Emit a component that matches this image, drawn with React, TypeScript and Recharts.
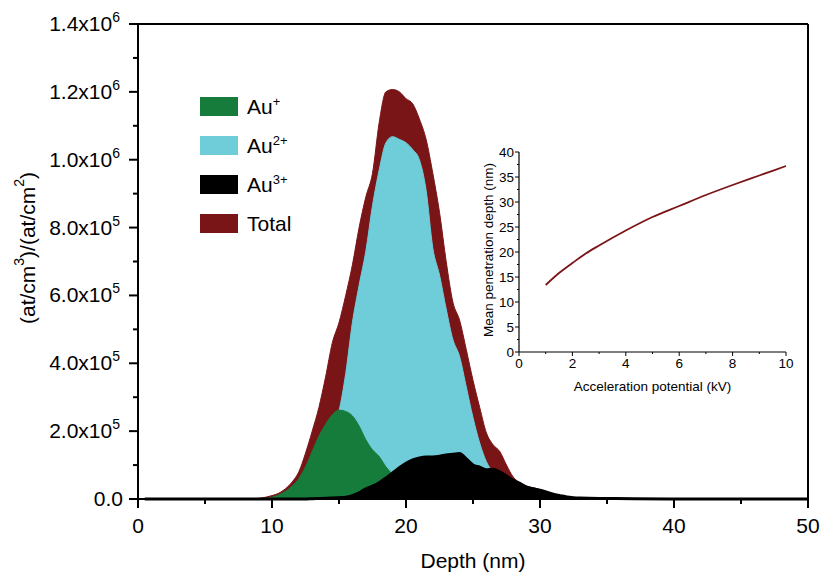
import React from 'react';
import { ComposedChart, Area, XAxis, YAxis, ReferenceLine, LineChart, Line, Label } from 'recharts';

const FONT = '"Liberation Sans", Arial, Helvetica, sans-serif';

// depth profile (nm) and implanted dose, (at/cm3)/(at/cm2)
const depthNm = [
	0.5, 5,
	8, 8.5, 9, 9.5, 10, 10.5, 11, 11.5, 12, 12.5,
	13, 13.5, 14, 14.5, 15, 15.5, 16, 16.5, 17, 17.5,
	18, 18.5, 19, 19.5, 20, 20.5, 21, 21.5, 22, 22.5,
	23, 23.5, 24, 24.5, 25, 25.5, 26, 26.5, 27, 27.5,
	28, 28.5, 29, 29.5, 30, 30.5, 31, 31.5, 32, 32.5,
	33,
	35, 37, 40, 45, 50,
];

const totalDose = [
	0, 0,
	500, 1000, 2000, 5000, 10000, 17000, 30000, 50000, 80000, 135000,
	200000, 270000, 360000, 460000, 520000, 600000, 690000, 800000, 890000, 960000,
	1110000, 1200000, 1207000, 1200000, 1180000, 1165000, 1120000, 1060000, 960000, 845000,
	700000, 580000, 527000, 440000, 350000, 270000, 195000, 160000, 140000, 100000,
	65000, 48000, 38000, 33000, 28000, 22000, 15000, 10000, 6000, 4000,
	3000,
	2000, 1000, 0, 0, 0,
];

const au2Dose = [
	0, 0,
	0, 0, 0, 0, 0, 2000, 5000, 10000, 20000, 40000,
	70000, 110000, 160000, 210000, 260000, 370000, 520000, 630000, 730000, 865000,
	970000, 1050000, 1068000, 1060000, 1050000, 1030000, 1000000, 910000, 740000, 660000,
	560000, 470000, 420000, 330000, 240000, 165000, 110000, 78000, 50000, 30000,
	15000, 8000, 4000, 2000, 0, 0, 0, 0, 0, 0,
	0,
	0, 0, 0, 0, 0,
];

const au1Dose = [
	0, 0,
	0, 0, 500, 2000, 5000, 12000, 22000, 38000, 60000, 95000,
	140000, 185000, 220000, 248000, 262000, 258000, 245000, 215000, 175000, 145000,
	125000, 95000, 72000, 50000, 35000, 25000, 15000, 10000, 5000, 3000,
	2000, 1000, 0, 0, 0, 0, 0, 0, 0, 0,
	0, 0, 0, 0, 0, 0, 0, 0, 0, 0,
	0,
	0, 0, 0, 0, 0,
];

const au3Dose = [
	0, 0,
	0, 0, 0, 0, 0, 0, 0, 0, 0, 0,
	1000, 1500, 2000, 3000, 4000, 5000, 10000, 18000, 30000, 38000,
	48000, 62000, 77000, 92000, 105000, 115000, 121000, 124000, 124000, 126000,
	130000, 132000, 134000, 118000, 100000, 94000, 86000, 88000, 80000, 68000,
	55000, 46000, 35000, 30000, 26000, 20000, 14000, 10000, 6000, 4000,
	3000,
	1500, 500, 0, 0, 0,
];

const depthTicks = [0, 5, 10, 15, 20, 25, 30, 35, 40, 45, 50];
const doseTicks = [
	0, 100000, 200000, 300000, 400000, 500000, 600000, 700000,
	800000, 900000, 1000000, 1100000, 1200000, 1300000, 1400000,
];

// inset: mean penetration depth vs acceleration potential
const insetKv = [1, 1.5, 2, 2.5, 3, 4, 5, 6, 7, 8, 9, 10];
const insetDepth = [13.4, 15.8, 17.8, 19.7, 21.3, 24.3, 27.0, 29.2, 31.4, 33.4, 35.3, 37.2];
const insetXTicks = [0, 1, 2, 3, 4, 5, 6, 7, 8, 9, 10];
const insetYTicks = [0, 2.5, 5, 7.5, 10, 12.5, 15, 17.5, 20, 22.5, 25, 27.5, 30, 32.5, 35, 37.5, 40];

const seriesNames = ['Total', 'Au2+', 'Au+', 'Au3+'];
const seriesColors = ['#7a1517', '#6ecdd9', '#167c3c', '#000000'];

const legendItems = [
	{ base: 'Au', sup: '+', color: '#167c3c' },
	{ base: 'Au', sup: '2+', color: '#6ecdd9' },
	{ base: 'Au', sup: '3+', color: '#000000' },
	{ base: 'Total', sup: '', color: '#7a1517' },
];

const profileData = depthNm.map((d, i) => ({
	depth: d,
	total: totalDose[i],
	au2: au2Dose[i],
	au1: au1Dose[i],
	au3: au3Dose[i],
}));

const insetData = insetKv.map((kv, i) => ({ kv, depth: insetDepth[i] }));

const sciParts = (v: number) => {
	if (v === 0) return { base: '0.0', exp: '' };
	const e = Math.floor(Math.log10(v) + 1e-9);
	return { base: `${(v / 10 ** e).toFixed(1)}x10`, exp: String(e) };
};

const DoseTick = (props: any) => {
	const { x, y, payload } = props;
	const v = payload.value;
	const major = Math.round(v / 100000) % 2 === 0;
	const { base, exp } = sciParts(v);
	return (
		<g>
			<line x1={x - (major ? 9 : 5)} x2={x} y1={y} y2={y} stroke="#000" strokeWidth={2} />
			{major && (
				<text x={x - (exp ? 18 : 15)} y={y + 7} textAnchor="end" fontSize={21} fontFamily={FONT} fill="#000">
					{base}
					{exp && (
						<tspan dy={-9} fontSize={14}>
							{exp}
						</tspan>
					)}
				</text>
			)}
		</g>
	);
};

const DepthTick = (props: any) => {
	const { x, y, payload } = props;
	const major = payload.value % 10 === 0;
	return (
		<g>
			<line x1={x} x2={x} y1={y} y2={y + (major ? 9 : 5)} stroke="#000" strokeWidth={2} />
			{major && (
				<text x={x} y={y + 34} textAnchor="middle" fontSize={21} fontFamily={FONT} fill="#000">
					{payload.value}
				</text>
			)}
		</g>
	);
};

const DoseTitle = (props: any) => {
	const vb = props.viewBox || { x: 0, y: 24 };
	const cx = vb.x + 27;
	const cy = vb.y + 224;
	return (
		<text
			transform={`translate(${cx},${cy}) rotate(-90)`}
			textAnchor="middle"
			dominantBaseline="central"
			fontSize={21}
			fontFamily={FONT}
			fill="#000"
		>
			(at/cm
			<tspan dy={-8} fontSize={14}>3</tspan>
			<tspan dy={8}>)/(at/cm</tspan>
			<tspan dy={-8} fontSize={14}>2</tspan>
			<tspan dy={8}>)</tspan>
		</text>
	);
};

const InsetXTick = (props: any) => {
	const { x, y, payload } = props;
	const major = payload.value % 2 === 0;
	return (
		<g>
			<line x1={x} x2={x} y1={y} y2={y + (major ? 4 : 2)} stroke="#000" strokeWidth={1} />
			{major && (
				<text x={x} y={y + 16} textAnchor="middle" fontSize={13.5} fontFamily={FONT} fill="#000">
					{payload.value}
				</text>
			)}
		</g>
	);
};

const InsetYTick = (props: any) => {
	const { x, y, payload } = props;
	const major = payload.value % 5 === 0;
	return (
		<g>
			<line x1={x - (major ? 4 : 2)} x2={x} y1={y} y2={y} stroke="#000" strokeWidth={1} />
			{major && (
				<text x={x - 5} y={y + 5} textAnchor="end" fontSize={13.5} fontFamily={FONT} fill="#000">
					{payload.value}
				</text>
			)}
		</g>
	);
};

const InsetYTitle = (props: any) => {
	const vb = props.viewBox || { x: 0, y: 12 };
	const cx = vb.x + 48;
	const cy = vb.y + 98;
	return (
		<text
			transform={`translate(${cx},${cy}) rotate(-90)`}
			textAnchor="middle"
			dominantBaseline="central"
			fontSize={13.5}
			fontFamily={FONT}
			fill="#000"
		>
			Mean penetration depth (nm)
		</text>
	);
};

const App = () => (
	<div style={{ position: 'absolute', left: 0, top: 0, width: 820, height: 574, background: '#fff', fontFamily: FONT }}>
		<ComposedChart width={820} height={574} data={profileData} margin={{ top: 24, right: 12, bottom: 0, left: 0 }}>
			<XAxis
				type="number"
				dataKey="depth"
				domain={[0, 50]}
				ticks={depthTicks}
				interval={0}
				tickSize={0}
				tickMargin={0}
				tickLine={false}
				tick={<DepthTick />}
				axisLine={{ stroke: '#000', strokeWidth: 2 }}
				height={75}
			>
				<Label value="Depth (nm)" position="insideBottom" offset={6} fontSize={21} fontFamily={FONT} fill="#000" />
			</XAxis>
			<YAxis
				type="number"
				domain={[0, 1400000]}
				ticks={doseTicks}
				interval={0}
				tickSize={0}
				tickMargin={0}
				tickLine={false}
				tick={<DoseTick />}
				axisLine={{ stroke: '#000', strokeWidth: 2 }}
				width={138}
			>
				<Label content={<DoseTitle />} />
			</YAxis>
			<Area type="monotone" dataKey="total" name={seriesNames[0]} fill={seriesColors[0]} fillOpacity={1} stroke={seriesColors[0]} strokeWidth={1} isAnimationActive={false} />
			<Area type="monotone" dataKey="au2" name={seriesNames[1]} fill={seriesColors[1]} fillOpacity={1} stroke={seriesColors[1]} strokeWidth={1} isAnimationActive={false} />
			<Area type="monotone" dataKey="au1" name={seriesNames[2]} fill={seriesColors[2]} fillOpacity={1} stroke={seriesColors[2]} strokeWidth={1} isAnimationActive={false} />
			<Area type="monotone" dataKey="au3" name={seriesNames[3]} fill={seriesColors[3]} fillOpacity={1} stroke={seriesColors[3]} strokeWidth={3} isAnimationActive={false} />
			<ReferenceLine y={1400000} stroke="#000" strokeWidth={2} />
			<ReferenceLine x={50} stroke="#000" strokeWidth={2} />
		</ComposedChart>

		{legendItems.map((it, i) => (
			<div
				key={it.base + it.sup}
				style={{ position: 'absolute', left: 200, top: 97 + i * 39, height: 19, display: 'flex', alignItems: 'center' }}
			>
				<div style={{ width: 38, height: 19, background: it.color }} />
				<div style={{ marginLeft: 9, fontSize: 21, lineHeight: '19px', color: '#000', whiteSpace: 'nowrap' }}>
					{it.base}
					{it.sup && <sup style={{ fontSize: 13, verticalAlign: 'super', lineHeight: 0 }}>{it.sup}</sup>}
				</div>
			</div>
		))}

		<div style={{ position: 'absolute', left: 440, top: 140 }}>
			<LineChart width={360} height={270} data={insetData} margin={{ top: 12, right: 14, bottom: 0, left: 0 }}>
				<XAxis
					type="number"
					dataKey="kv"
					domain={[0, 10]}
					ticks={insetXTicks}
					interval={0}
					tickSize={0}
					tickMargin={0}
					tickLine={false}
					tick={<InsetXTick />}
					axisLine={{ stroke: '#000', strokeWidth: 1.2 }}
					height={58}
				>
					<Label value="Acceleration potential (kV)" position="insideBottom" offset={19} fontSize={13.5} fontFamily={FONT} fill="#000" />
				</XAxis>
				<YAxis
					type="number"
					domain={[0, 40]}
					ticks={insetYTicks}
					interval={0}
					tickSize={0}
					tickMargin={0}
					tickLine={false}
					tick={<InsetYTick />}
					axisLine={{ stroke: '#000', strokeWidth: 1.2 }}
					width={79}
				>
					<Label content={<InsetYTitle />} />
				</YAxis>
				<Line type="monotone" dataKey="depth" stroke="#7b1416" strokeWidth={1.8} dot={false} isAnimationActive={false} />
			</LineChart>
		</div>
	</div>
);

export default App;
